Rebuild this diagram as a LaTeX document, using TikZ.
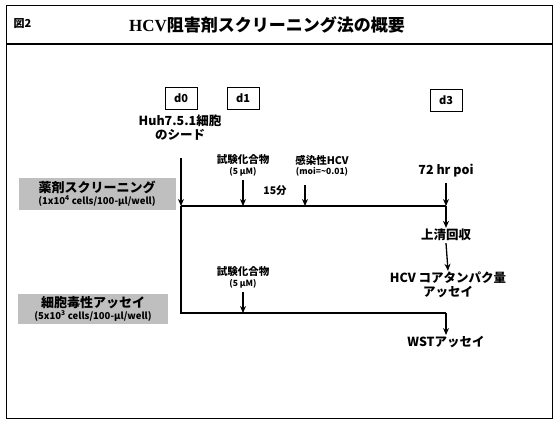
\documentclass[tikz,border=0pt]{standalone}
\usepackage{fontspec}
\newfontfamily\cjk{Noto Sans CJK JP}
\setmainfont{Liberation Serif}
\usetikzlibrary{arrows.meta}
\tikzset{
  lbl/.style={font=\cjk\bfseries\fontsize{12.5}{14}\selectfont, align=center, inner sep=1pt},
  sml/.style={font=\cjk\bfseries\fontsize{10.5}{11.5}\selectfont, align=center, inner sep=1pt},
  tiny/.style={font=\cjk\bfseries\fontsize{8.5}{9.5}\selectfont, align=center, inner sep=1pt},
  daybox/.style={draw, line width=1pt, minimum width=32pt, minimum height=22pt, inner sep=0pt, font=\cjk\bfseries\fontsize{11}{12}\selectfont},
  graybox/.style={fill=black!25, inner sep=2pt, align=center, font=\cjk\bfseries\fontsize{13}{13}\selectfont},
  flow/.style={line width=1.6pt},
  arr/.style={line width=1.3pt, -{Stealth[length=7pt,width=6pt]}}
}
\begin{document}
\begin{tikzpicture}[x=1pt,y=-1pt]
\useasboundingbox (0,0) rectangle (556,423);
% frame
\draw[line width=1pt] (6,5) rectangle (552,418);
\draw[line width=1.8pt] (6,44) -- (552,44);
\node[anchor=west, font=\cjk\bfseries\fontsize{11}{12}\selectfont] (fig) at (10,24) {図2};
\node[font=\bfseries\fontsize{17}{19}\selectfont] (title) at (267,25) {HCV{\cjk\bfseries 阻害剤スクリーニング法の概要}};
% day boxes
\node[daybox] (d0) at (181,98) {d0};
\node[daybox] (d1) at (243,98) {d1};
\node[daybox] (d3) at (446,100) {d3};
% seed
\node[lbl] (seed) at (180,128) {Huh7.5.1細胞\\のシード};
% left labels
\node[graybox, minimum width=157pt, minimum height=32pt] (screen) at (97,194) {薬剤スクリーニング\\[-1pt]{\fontsize{9.5}{10}\selectfont (1x10\textsuperscript{4} cells/100-μl/well)}};
\node[graybox, minimum width=150pt, minimum height=30pt] (tox) at (93,309) {細胞毒性アッセイ\\[-1pt]{\fontsize{9.5}{10}\selectfont (5x10\textsuperscript{3} cells/100-μl/well)}};
% coordinates of the flow lines
\coordinate (v0) at (181,158);
\coordinate (j1) at (181,206);
\coordinate (j2) at (181,313);
\coordinate (e1) at (446,206);
\coordinate (e2) at (446,313);
\coordinate (a1) at (243,206);
\coordinate (a2) at (305,206);
\coordinate (a3) at (243,313);
% flow lines
\draw[arr] (v0) -- (j1);
\draw[flow] (j1) -- (e1);
\draw[flow] (j1) -- (j2) -- (e2);
% upper compounds
\node[sml] (comp1) at (243,160) {試験化合物};
\node[tiny] (conc1) at (243,172) {(5 μM)};
\draw[arr] ([yshift=-2pt]conc1.south) -- (a1);
\node[sml] (hcv) at (322,160) {感染性HCV};
\node[tiny] (moi) at (322,172) {(moi=\textasciitilde 0.01)};
\coordinate (a2s) at (305,185);
\draw[arr] (a2s) -- (a2);
\node[sml] (min) at (275,191) {15分};
% lower compound
\node[sml] (comp2) at (243,272) {試験化合物};
\node[tiny] (conc2) at (243,284) {(5 μM)};
\draw[arr] ([yshift=-2pt]conc2.south) -- (a3);
% right column
\node[lbl] (poi) at (446,171) {72 hr poi};
\draw[arr] ([yshift=-4pt]poi.south) -- (e1);
\node[lbl] (sup) at (446,235) {上清回収};
\draw[arr] (e1) -- (sup.north);
\node[lbl] (core) at (448,285) {HCV コアタンパク量\\アッセイ};
\draw[arr] ([yshift=-1pt]sup.south) -- (core.north);
\node[lbl] (wst) at (446,342) {WSTアッセイ};
\draw[arr] (e2) -- (wst.north);
\end{tikzpicture}
\end{document}
